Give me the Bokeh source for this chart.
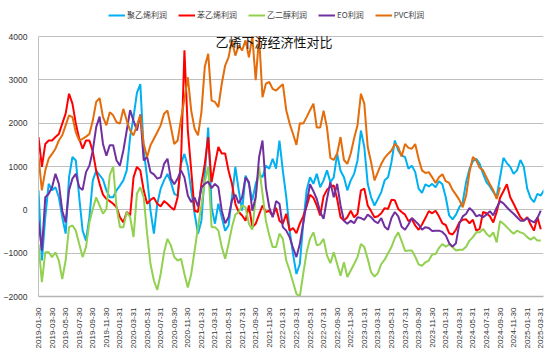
import numpy as np
from bokeh.plotting import figure
from bokeh.models import Range1d, FixedTicker, Legend, LegendItem, Label
from bokeh.embed import file_html
from bokeh.resources import INLINE

# x axis tick labels (one every 2 months, month index 0, 2, 4, ...)
tick_labels = [
    "2019-01-30", "2019-03-30", "2019-05-30", "2019-07-30", "2019-09-30", "2019-11-30",
    "2020-01-31", "2020-03-31", "2020-05-31", "2020-07-31", "2020-09-30", "2020-11-30",
    "2021-01-31", "2021-03-31", "2021-05-31", "2021-07-31", "2021-09-30", "2021-11-30",
    "2022-01-31", "2022-03-31", "2022-05-31", "2022-07-31", "2022-09-30", "2022-11-30",
    "2023-01-31", "2023-03-31", "2023-05-31", "2023-07-31", "2023-09-30", "2023-11-30",
    "2024-01-31", "2024-03-31", "2024-05-31", "2024-07-31", "2024-09-30", "2024-11-30",
    "2025-01-31", "2025-03-31",
]
y_ticks = [-2000, -1000, 0, 1000, 2000, 3000, 4000]

series_names = ["聚乙烯利润", "苯乙烯利润", "乙二醇利润", "EO利润", "PVC利润"]

# values sampled every half month, starting at 2019-01-30
pe_profit = [
    450, -1170, -170, 600, 450, 520, 290, -170, -550, 750,
    1220, 1140, 290, -480, -710, -170, 680, 900, 800, 700,
    450, 290, 290, 450, 560, 680, 910, 1680, 2140, 2700,
    2900, 1370, 750, -20, -550, 140, 490, 680, 830, 640,
    370, 330, 1060, 1290, 990, 450, -90, -550, -250, 830,
    1900, 60, -320, 140, -170, -480, -360, 290, 990, 450,
    -20, 790, 600, 220, 600, 830, 750, 1020, 950, 1180,
    950, 1600, 900, 300, -480, -1020, -1480, -1250, -320, 450,
    750, 600, 830, 520, 680, 910, 640, 750, 1290, 900,
    750, 450, 680, 830, 1140, 1830, 1450, 600, 290, 100,
    250, 410, 680, 750, 1100, 1600, 1370, 1250, 1220, 950,
    1020, 870, 490, 390, 590, 540, 600, 520, 660, 590,
    290, -130, -220, -110, 60, 180, 640, 950, 1120, 1180,
    1060, 830, 640, 540, 410, 310, 750, 1200, 1080, 990,
    830, 910, 1150, 990, 490, 270, 180, 370, 330, 460,
]

sm_profit = [
    1680, 990, 1520, 1600, 1600, 1680, 1750, 1990, 2220, 2680,
    2450, 1990, 1640, 1410, 1600, 1600, 1350, 900, 600, 350,
    250, 200, 140, 60, -170, -290, -50, -130, 750, 990,
    910, 450, 140, 230, 280, 140, 80, 200, 140, 60,
    0, 290, 1140, 3680, 1830, 910, -20, -50, 600, 1060,
    1680, 640, 1060, 1450, 1300, 1300, 900, 600, 140, -50,
    -130, -250, 100, -400, -320, -110, 100, -50, -20, -150,
    50, -250, -320, -90, -480, -420, -540, -320, -150, 80,
    350, 280, 100, -130, 310, 460, 540, 560, 250, -170,
    -250, -170, -20, -170, -90, 450, 490, 100, -30, -170,
    -150, -80, 40, 20, 230, 220, 20, -50, -110, -260,
    -210, -360, -460, -340, -190, -30, -80, -20, -150, -310,
    -350, -540, -570, -460, -290, -230, -220, -310, -230, -480,
    -440, -50, -80, -150, -290, -50, 280, 430, 590, 290,
    140, -20, -170, -250, -170, -340, -480, -170, -450,
]

meg_profit = [
    -790, -1670, -980, -980, -1090, -980, -1170, -1600, -1170, -400,
    -360, -480, -790, -1090, -860, -290, 20, 290, 100, -90,
    20, 800, 1000, 60, -400, -400, -50, -170, -630, 370,
    520, 290, -550, -1250, -1630, -1850, -1480, -980, -670, -820,
    -1090, -1170, -1130, -1480, -1790, -1480, -940, -400, 100, 640,
    1000, -400, -400, -480, -860, -1130, -790, -400, -110, -50,
    100, 60, -320, -460, 290, 990, 370, -250, -590, -860,
    -860, -550, -670, -1170, -1400, -1670, -1940, -2000, -1480, -980,
    -670, -520, -820, -790, -670, -1050, -1230, -980, -1250, -1520,
    -1210, -1550, -1400, -1250, -1090, -790, -860, -1130, -1440, -1540,
    -1460, -1250, -1150, -1000, -860, -650, -520, -720, -950, -940,
    -940, -1080, -1260, -1290, -1210, -1170, -1030, -1020, -880, -790,
    -850, -800, -860, -940, -920, -920, -850, -710, -630, -520,
    -520, -440, -550, -620, -520, -750, -260, -320, -400, -480,
    -550, -480, -520, -550, -630, -690, -630, -710, -710,
]

eo_profit = [
    -250, -940, 290, 370, 520, 830, 600, -20, -290, 450,
    720, 830, 520, 460, 870, 1020, 1370, 1910, 2150, 1520,
    1250, 1490, 1490, 1140, 1020, 1370, 1830, 2300, 2060, 1830,
    2200, 1140, 1220, 870, 820, 720, 750, 1060, 1180, 720,
    590, 720, 910, 750, 330, 180, 280, 80, 510, 600,
    650, 500, 600, 520, -20, -310, -170, 220, 350, 150,
    290, 750, 640, -20, 290, 1220, 1600, 520, 60, -170,
    200, 140, -400, -480, -630, -880, -1090, -790, -310, 150,
    590, 430, 250, -50, -210, 250, 640, 290, 600, 100,
    -250, -320, -250, -310, -170, -190, -230, -110, -170, -260,
    -310, -190, -390, -460, -190, -50, -150, -390, -460, -340,
    -190, -260, -340, -460, -400, -420, -490, -480, -480, -510,
    -590, -770, -850, -770, -320, -150, -90, 40, -30, -150,
    -120, -170, -110, -30, -130, 50, 200, 150, 60, -20,
    -90, -170, -250, -250, -190, -250, -290, -190, -20,
]

pvc_profit = [
    1220, 450, 910, 1180, 1290, 1410, 1600, 1720, 1950, 2180,
    2140, 1790, 1600, 1640, 1690, 1750, 2060, 2490, 2580, 2140,
    1950, 2250, 2180, 2020, 1990, 2330, 2060, 1830, 1720, 1950,
    2180, 1520, 1220, 1490, 1640, 1790, 1950, 2220, 2290, 1910,
    1520, 1600, 2100, 2560, 3060, 2290, 1870, 1720, 2250, 3300,
    3600, 2520, 2490, 2370, 2910, 3330, 3520, 3910, 3560, 3790,
    3680, 3910, 3520, 4000, 2990, 4000, 2600, 2910, 2950, 2790,
    2750, 2830, 2900, 2300, 1990, 1750, 1500, 2000, 1990, 2140,
    2300, 2450, 1900, 1900, 2290, 1900, 1200, 1150, 1300, 1680,
    1150, 1060, 1300, 1650, 1950, 2680, 2450, 1450, 1100, 680,
    870, 1060, 1200, 1290, 1370, 1520, 1450, 1230, 1520, 1430,
    1410, 1520, 1180, 910, 850, 870, 750, 620, 750, 820,
    660, 620, 460, 350, 230, 60, 330, 870, 1220, 1140,
    970, 910, 750, 590, 450, 250, 520,
]

colors = ["#00B0F0", "#FF0000", "#92D050", "#7030A0", "#E46C0A"]
all_series = [pe_profit, sm_profit, meg_profit, eo_profit, pvc_profit]

# frame spans the full height above the x axis so the legend can sit inside it;
# 260 px correspond to 6000 units, so the top 36 px hold the legend area
y_top = 4000 + 36 * 6000 / 260

p = figure(
    width=550, height=351, output_backend="svg", toolbar_location=None,
    x_range=Range1d(0, 74.4), y_range=Range1d(-2000, y_top),
    min_border_left=31, min_border_right=7, min_border_top=0, min_border_bottom=55,
)
p.outline_line_color = None
p.background_fill_color = "white"
p.border_fill_color = "white"

renderers = []
for vals, col in zip(all_series, colors):
    xs = [i * 0.5 for i in range(len(vals))]
    r = p.line(xs, vals, line_color=col, line_width=2)
    renderers.append(r)

# axes
ticks_x = [2 * i for i in range(len(tick_labels))]
p.xaxis.ticker = FixedTicker(ticks=ticks_x)
p.xaxis.major_label_overrides = {t: lab for t, lab in zip(ticks_x, tick_labels)}
p.xaxis.major_label_orientation = np.pi / 2
p.xaxis.major_label_text_font = "Liberation Sans"
p.xaxis.major_label_text_font_size = "8px"
p.xaxis.major_label_text_color = "#333333"
p.xaxis.major_label_standoff = 5
p.xaxis.major_tick_line_color = None
p.xaxis.minor_tick_line_color = None
p.xaxis.axis_line_color = "#B4B4B4"
p.xaxis.axis_line_width = 1.5

p.yaxis.ticker = FixedTicker(ticks=y_ticks)
p.yaxis.bounds = (y_ticks[0], y_ticks[-1])
p.yaxis.major_label_text_font = "Liberation Sans"
p.yaxis.major_label_text_font_size = "8.5px"
p.yaxis.major_label_text_color = "#333333"
p.yaxis.major_label_standoff = 5
p.yaxis.major_tick_line_color = None
p.yaxis.minor_tick_line_color = None
p.yaxis.axis_line_color = "#BFBFBF"

p.xgrid.grid_line_color = None
p.ygrid.ticker = FixedTicker(ticks=y_ticks[1:])
p.ygrid.grid_line_color = "#BFBFBF"
p.ygrid.grid_line_width = 1

# title drawn inside the plot area
title = Label(x=34.7, y=3880, text="乙烯下游经济性对比", text_align="center",
              text_baseline="middle", text_font="Noto Sans CJK SC",
              text_font_size="13px", text_color="#111111")
p.add_layout(title)

legend = Legend(
    items=[LegendItem(label=n, renderers=[r]) for n, r in zip(series_names, renderers)],
    orientation="horizontal", location=(70, 276),
    glyph_width=17, glyph_height=10, label_height=10, label_standoff=2, spacing=11,
    padding=2, margin=0, border_line_color=None, background_fill_alpha=0,
    label_text_font="Noto Sans CJK SC", label_text_font_size="8px",
    label_text_color="#404040",
)
p.add_layout(legend, "center")

open("out.html", "w").write(file_html(p, INLINE))
